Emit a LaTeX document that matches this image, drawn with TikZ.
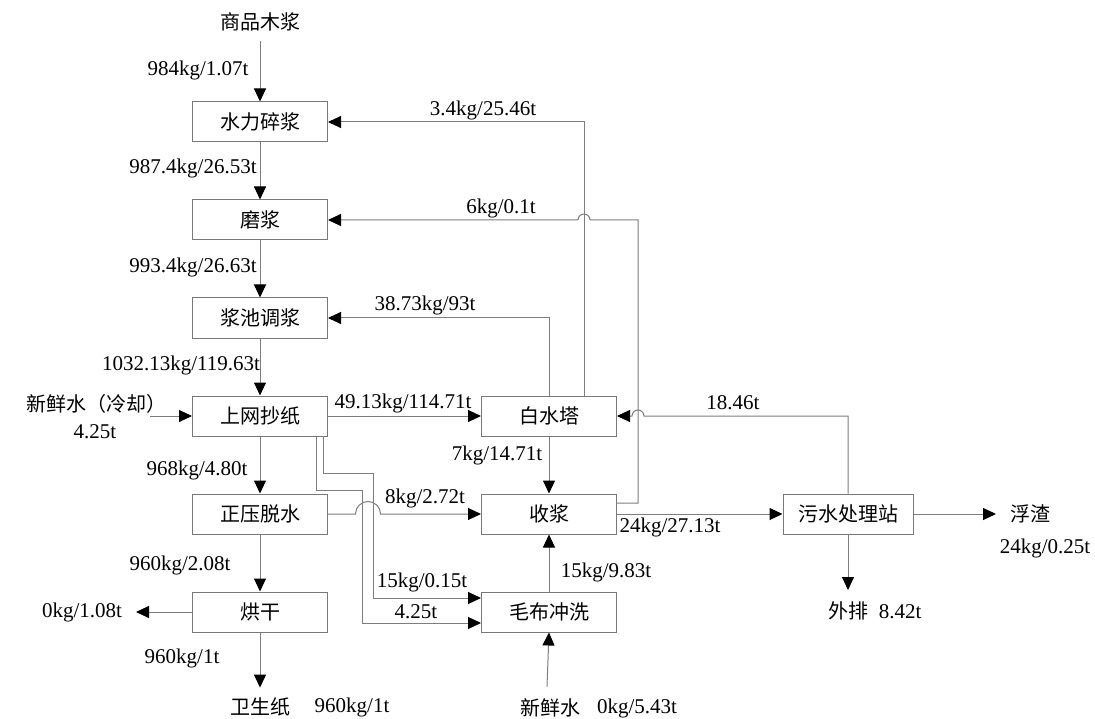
\documentclass[tikz,border=0pt]{standalone}
\usepackage{fontspec}
\setmainfont{Liberation Serif}
\newfontfamily\cjk{Noto Sans CJK SC}
\usetikzlibrary{arrows.meta}
\definecolor{lngray}{RGB}{125,125,125}
\definecolor{boxgray}{RGB}{120,120,120}
\begin{document}
\begin{tikzpicture}[x=1pt,y=-1pt,
  every node/.style={font=\fontsize{21pt}{24pt}\selectfont, inner sep=0pt},
  box/.style={draw=boxgray, line width=1pt, minimum width=135pt, minimum height=40pt, font=\fontsize{20pt}{24pt}\selectfont\cjk},
  ln/.style={draw=lngray, line width=1pt},
  arr/.style={ln, -{Triangle[length=13pt,width=12pt,color=black,fill=black]}}
]
\useasboundingbox (0,0) rectangle (1095,719);

% process boxes
\node[box] (slsj) at (260,122) {水力碎浆};
\node[box] (mj)   at (260,220) {磨浆};
\node[box] (jctj) at (260,318) {浆池调浆};
\node[box] (swcz) at (260,416) {上网抄纸};
\node[box] (zyts) at (260,514) {正压脱水};
\node[box] (hg)   at (260,612) {烘干};
\node[box] (bst)  at (549,416) {白水塔};
\node[box] (sj)   at (549,514) {收浆};
\node[box] (mbcx) at (549,612) {毛布冲洗};
\node[box, minimum width=130pt] (wsc) at (848,514) {污水处理站};

% terminal texts
\node[font=\fontsize{20pt}{24pt}\selectfont\cjk] (spmj) at (260,22) {商品木浆};
\node[font=\fontsize{20pt}{24pt}\selectfont\cjk] (xxsl) at (97,404) {新鲜水（冷却）};
\node (xxsl2) at (95,432) {4.25t};
\node[font=\fontsize{20pt}{24pt}\selectfont\cjk] (wsz) at (260,707) {卫生纸};
\node (wsz2) at (352,707) {960kg/1t};
\node[font=\fontsize{20pt}{24pt}\selectfont\cjk] (xxs) at (550,708) {新鲜水};
\node (xxs2) at (637,708) {0kg/5.43t};
\node[font=\fontsize{20pt}{24pt}\selectfont\cjk] (fz) at (1030,514) {浮渣};
\node (fz2) at (1045,548) {24kg/0.25t};
\node (wp) at (875,611) {{\fontsize{20pt}{24pt}\selectfont\cjk 外排}\ \ 8.42t};
\node (hgl) at (82,612) {0kg/1.08t};

% coordinates for free ends
\coordinate (fwin) at (150,416);
\coordinate (hgout) at (136,612);
\coordinate (wpend) at (848,590);
\coordinate (fzend) at (996,514);
\coordinate (h1) at (584,220);
\coordinate (h2) at (638,416);
\coordinate (h3) at (368,514);

% main column
\draw[arr] ([yshift=-10pt]spmj.south) -- (slsj.north);
\draw[arr] (slsj.south) -- (mj.north);
\draw[arr] (mj.south) -- (jctj.north);
\draw[arr] (jctj.south) -- (swcz.north);
\draw[arr] (swcz.south) -- (zyts.north);
\draw[arr] (zyts.south) -- (hg.north);
\draw[arr] (hg.south) -- ([yshift=10pt]wsz.north);
\draw[arr] (hg.west) -- (hgout);
\draw[arr] (fwin) -- (swcz.west);

% white water tower
\draw[arr] (swcz.east) -- (bst.west);
\draw[arr] (bst.south) -- (sj.north);
\draw[arr] ([xshift=35pt]bst.north) |- (slsj.east);
\draw[arr] (bst.north) |- (jctj.east);

% pulp recovery return with hop
\draw[arr] ([yshift=11pt]sj.east) -| (h1 -| h2) -- ([xshift=6pt]h1)
  arc[start angle=0,end angle=180,radius=6pt] -- (mj.east);

% wastewater return 18.46t with hop
\draw[arr] (wsc.north) |- ([xshift=6pt]h2)
  arc[start angle=0,end angle=180,radius=6pt] -- (bst.east);

% press dewatering to pulp recovery with hop
\draw[arr] (zyts.east) -- ([xshift=-12.5pt]h3)
  arc[start angle=180,end angle=0,radius=12.5pt] -- (sj.west);

% wire section to felt washing
\draw[arr] ([xshift=63pt]swcz.south) -- (323,473) -- (373,473) -- (373,598) -- ([yshift=14pt]mbcx.west);
\draw[arr] ([xshift=56pt]swcz.south) -- (316,490) -- (362,490) -- (362,623) -- ([yshift=-11pt]mbcx.west);

% felt washing
\draw[arr] (mbcx.north) -- (sj.south);
\draw[arr] ([xshift=-3pt,yshift=12pt]xxs.north) -- (mbcx.south);

% wastewater
\draw[arr] (sj.east) -- (wsc.west);
\draw[arr] (wsc.east) -- (fzend);
\draw[arr] (wsc.south) -- (wpend);

% flow labels
\node at (198,70) {984kg/1.07t};
\node at (193,168) {987.4kg/26.53t};
\node at (193,267) {993.4kg/26.63t};
\node at (181,365) {1032.13kg/119.63t};
\node at (483,110) {3.4kg/25.46t};
\node at (501,208) {6kg/0.1t};
\node at (425,305) {38.73kg/93t};
\node at (403,403) {49.13kg/114.71t};
\node at (497,455) {7kg/14.71t};
\node at (197,470) {968kg/4.80t};
\node at (425,498) {8kg/2.72t};
\node at (670,527) {24kg/27.13t};
\node at (180,565) {960kg/2.08t};
\node at (422,582) {15kg/0.15t};
\node at (606,572) {15kg/9.83t};
\node at (416,612) {4.25t};
\node at (182,658) {960kg/1t};
\node at (733,403) {18.46t};
\end{tikzpicture}
\end{document}
